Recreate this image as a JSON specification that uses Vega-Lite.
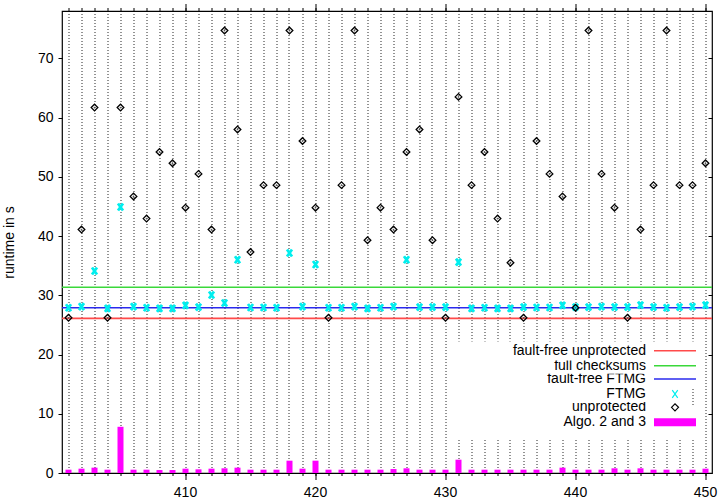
{
  "$schema": "https://vega.github.io/schema/vega-lite/v6.json",
  "width": 650,
  "height": 462,
  "autosize": {"type": "none"},
  "padding": {"left": 62, "top": 11, "right": 7, "bottom": 27},
  "background": "white",
  "datasets": {
    "runs": [
      {"n": 401, "ftmg": 27.9, "unprotected": 26.2, "algo": 0.56},
      {"n": 402, "ftmg": 28.1, "unprotected": 41.1, "algo": 0.73},
      {"n": 403, "ftmg": 34.1, "unprotected": 61.7, "algo": 0.9},
      {"n": 404, "ftmg": 27.8, "unprotected": 26.2, "algo": 0.56},
      {"n": 405, "ftmg": 44.9, "unprotected": 61.7, "algo": 7.8},
      {"n": 406, "ftmg": 28.1, "unprotected": 46.7, "algo": 0.56},
      {"n": 407, "ftmg": 27.9, "unprotected": 42.95, "algo": 0.56},
      {"n": 408, "ftmg": 27.8, "unprotected": 54.2, "algo": 0.5},
      {"n": 409, "ftmg": 27.8, "unprotected": 52.3, "algo": 0.5},
      {"n": 410, "ftmg": 28.3, "unprotected": 44.8, "algo": 0.73},
      {"n": 411, "ftmg": 28.0, "unprotected": 50.5, "algo": 0.62},
      {"n": 412, "ftmg": 30.05, "unprotected": 41.1, "algo": 0.73},
      {"n": 413, "ftmg": 28.7, "unprotected": 74.7, "algo": 0.79},
      {"n": 414, "ftmg": 36.0, "unprotected": 58.0, "algo": 0.9},
      {"n": 415, "ftmg": 27.95, "unprotected": 37.3, "algo": 0.56},
      {"n": 416, "ftmg": 27.95, "unprotected": 48.6, "algo": 0.56},
      {"n": 417, "ftmg": 27.9, "unprotected": 48.6, "algo": 0.56},
      {"n": 418, "ftmg": 37.15, "unprotected": 74.7, "algo": 2.08},
      {"n": 419, "ftmg": 28.1, "unprotected": 56.05, "algo": 0.73},
      {"n": 420, "ftmg": 35.2, "unprotected": 44.8, "algo": 2.08},
      {"n": 421, "ftmg": 27.9, "unprotected": 26.2, "algo": 0.56},
      {"n": 422, "ftmg": 27.9, "unprotected": 48.6, "algo": 0.56},
      {"n": 423, "ftmg": 28.1, "unprotected": 74.7, "algo": 0.56},
      {"n": 424, "ftmg": 27.8, "unprotected": 39.3, "algo": 0.56},
      {"n": 425, "ftmg": 27.9, "unprotected": 44.8, "algo": 0.56},
      {"n": 426, "ftmg": 28.1, "unprotected": 41.1, "algo": 0.67},
      {"n": 427, "ftmg": 36.0, "unprotected": 54.2, "algo": 0.79},
      {"n": 428, "ftmg": 28.0, "unprotected": 58.0, "algo": 0.56},
      {"n": 429, "ftmg": 28.0, "unprotected": 39.3, "algo": 0.56},
      {"n": 430, "ftmg": 28.0, "unprotected": 26.2, "algo": 0.56},
      {"n": 431, "ftmg": 35.6, "unprotected": 63.5, "algo": 2.25},
      {"n": 432, "ftmg": 27.8, "unprotected": 48.6, "algo": 0.56},
      {"n": 433, "ftmg": 27.9, "unprotected": 54.2, "algo": 0.56},
      {"n": 434, "ftmg": 27.8, "unprotected": 42.95, "algo": 0.56},
      {"n": 435, "ftmg": 27.8, "unprotected": 35.5, "algo": 0.56},
      {"n": 436, "ftmg": 28.0, "unprotected": 26.2, "algo": 0.56},
      {"n": 437, "ftmg": 27.95, "unprotected": 56.05, "algo": 0.56},
      {"n": 438, "ftmg": 27.95, "unprotected": 50.5, "algo": 0.56},
      {"n": 439, "ftmg": 28.3, "unprotected": 46.7, "algo": 0.9},
      {"n": 440, "ftmg": 28.0, "unprotected": 27.9, "algo": 0.56},
      {"n": 441, "ftmg": 28.0, "unprotected": 74.7, "algo": 0.56},
      {"n": 442, "ftmg": 28.1, "unprotected": 50.5, "algo": 0.56},
      {"n": 443, "ftmg": 28.0, "unprotected": 44.8, "algo": 0.79},
      {"n": 444, "ftmg": 28.0, "unprotected": 26.2, "algo": 0.56},
      {"n": 445, "ftmg": 28.35, "unprotected": 41.1, "algo": 0.79},
      {"n": 446, "ftmg": 28.0, "unprotected": 48.6, "algo": 0.56},
      {"n": 447, "ftmg": 27.9, "unprotected": 74.7, "algo": 0.56},
      {"n": 448, "ftmg": 28.0, "unprotected": 48.6, "algo": 0.56},
      {"n": 449, "ftmg": 28.1, "unprotected": 48.6, "algo": 0.56},
      {"n": 450, "ftmg": 28.35, "unprotected": 52.3, "algo": 0.73}
    ],
    "lines": [
      {"series": "fault-free unprotected", "runtime": 26.1},
      {"series": "full checksums", "runtime": 31.35},
      {"series": "fault-free FTMG", "runtime": 27.9}
    ]
  },
  "resolve": {
    "scale": {"color": "independent"},
    "axis": {"x": "independent", "y": "independent"}
  },
  "layer": [
    {
      "data": {"name": "lines"},
      "transform": [{"filter": "datum.series === 'fault-free unprotected'"}],
      "mark": {"type": "rule", "strokeWidth": 1.6},
      "encoding": {
        "y": {"field": "runtime", "type": "quantitative", "axis": null},
        "color": {
          "field": "series", "type": "nominal",
          "scale": {"range": ["#ff4a4a"]},
          "legend": {
            "title": null, "orient": "none", "legendX": 390, "legendY": 330.5, "padding": 2.2, "zindex": 6,
            "fillColor": "white", "labelFontSize": 14, "labelFont": "Liberation Sans", "labelColor": "black",
            "labelAlign": "right", "labelOffset": -36, "labelLimit": 400,
            "symbolOffset": 213.8, "symbolSize": 100, "symbolStrokeWidth": 1.5, "symbolType": "M-4.2,0H4.2"
          }
        }
      }
    },
    {
      "data": {"name": "lines"},
      "transform": [{"filter": "datum.series === 'full checksums'"}],
      "mark": {"type": "rule", "strokeWidth": 1.6},
      "encoding": {
        "y": {"field": "runtime", "type": "quantitative", "axis": null},
        "color": {
          "field": "series", "type": "nominal",
          "scale": {"range": ["#3ad83a"]},
          "legend": {
            "title": null, "orient": "none", "legendX": 390, "legendY": 346.7, "padding": 1, "zindex": 5,
            "fillColor": "white", "labelFontSize": 14, "labelFont": "Liberation Sans", "labelColor": "black",
            "labelAlign": "right", "labelOffset": -36, "labelLimit": 400,
            "symbolOffset": 215, "symbolSize": 100, "symbolStrokeWidth": 1.5, "symbolType": "M-4.2,0H4.2"
          }
        }
      }
    },
    {
      "data": {"name": "lines"},
      "transform": [{"filter": "datum.series === 'fault-free FTMG'"}],
      "mark": {"type": "rule", "strokeWidth": 1.6},
      "encoding": {
        "y": {"field": "runtime", "type": "quantitative", "axis": null},
        "color": {
          "field": "series", "type": "nominal",
          "scale": {"range": ["#2a2aee"]},
          "legend": {
            "title": null, "orient": "none", "legendX": 390, "legendY": 359.5, "padding": 1.5, "zindex": 4,
            "fillColor": "white", "labelFontSize": 14, "labelFont": "Liberation Sans", "labelColor": "black",
            "labelAlign": "right", "labelOffset": -36, "labelLimit": 400,
            "symbolOffset": 214.5, "symbolSize": 100, "symbolStrokeWidth": 1.5, "symbolType": "M-4.2,0H4.2"
          }
        }
      }
    },
    {
      "data": {"name": "runs"},
      "mark": {"type": "point", "shape": "M-1,-1.4L1,1.4M-1,1.4L1,-1.4", "size": 25, "filled": false, "strokeWidth": 2.8, "opacity": 1},
      "encoding": {
        "x": {
          "field": "n", "type": "quantitative",
          "axis": {
            "orient": "top", "title": null, "labels": false, "grid": false, "tickSize": 3, "translate": 0,
            "values": [401,402,403,404,405,406,407,408,409,410,411,412,413,414,415,416,417,418,419,420,421,422,423,424,425,426,427,428,429,430,431,432,433,434,435,436,437,438,439,440,441,442,443,444,445,446,447,448,449,450]
          }
        },
        "y": {
          "field": "ftmg", "type": "quantitative",
          "axis": {"orient": "right", "title": null, "labels": false, "grid": false, "tickSize": 4, "offset": -4, "values": [10, 20, 30, 40, 50, 60, 70]}
        },
        "color": {
          "datum": "FTMG", "type": "nominal",
          "scale": {"range": ["#00eeee"]},
          "legend": {
            "title": null, "orient": "none", "legendX": 390, "legendY": 375, "padding": 1, "zindex": 3,
            "fillColor": "white", "labelFontSize": 14, "labelFont": "Liberation Sans", "labelColor": "black",
            "labelAlign": "right", "labelOffset": -36, "labelLimit": 400,
            "symbolOffset": 215, "symbolSize": 30, "symbolStrokeWidth": 1.2
          }
        }
      }
    },
    {
      "data": {"name": "runs"},
      "mark": {"type": "point", "shape": "diamond", "size": 44, "filled": false, "strokeWidth": 1.3, "opacity": 1},
      "encoding": {
        "x": {
          "field": "n", "type": "quantitative",
          "axis": {"orient": "bottom", "title": null, "labels": false, "grid": false, "tickSize": 7, "translate": 0, "values": [410, 420, 430, 440, 450]}
        },
        "y": {"field": "unprotected", "type": "quantitative", "axis": null},
        "color": {
          "datum": "unprotected", "type": "nominal",
          "scale": {"range": ["#000000"]},
          "legend": {
            "title": null, "orient": "none", "legendX": 390, "legendY": 387.8, "padding": 1.5, "zindex": 2,
            "fillColor": "white", "labelFontSize": 14, "labelFont": "Liberation Sans", "labelColor": "black",
            "labelAlign": "right", "labelOffset": -36, "labelLimit": 400,
            "symbolOffset": 214.5, "symbolSize": 49, "symbolStrokeWidth": 1.2
          }
        }
      }
    },
    {
      "data": {"name": "runs"},
      "mark": {"type": "bar", "size": 6},
      "encoding": {
        "x": {
          "field": "n", "type": "quantitative",
          "scale": {"domain": [400.5, 450.5], "nice": false, "zero": false, "padding": 0},
          "axis": {
            "orient": "bottom", "title": null, "translate": 0,
            "values": [401,402,403,404,405,406,407,408,409,410,411,412,413,414,415,416,417,418,419,420,421,422,423,424,425,426,427,428,429,430,431,432,433,434,435,436,437,438,439,440,441,442,443,444,445,446,447,448,449,450],
            "labelExpr": "datum.value % 10 === 0 ? datum.label : ''",
            "tickSize": 3, "labelPadding": 10, "labelOverlap": false, "labelFlush": false,
            "grid": true, "gridDash": [1, 2], "gridColor": "#000000", "gridWidth": 1, "gridOpacity": 0.85
          }
        },
        "y": {
          "field": "algo", "type": "quantitative",
          "scale": {"domain": [0, 78], "nice": false},
          "axis": {
            "orient": "left", "values": [0, 10, 20, 30, 40, 50, 60, 70],
            "tickSize": 4, "labelPadding": 5, "grid": false,
            "title": "runtime in s", "titlePadding": 21
          }
        },
        "color": {
          "datum": "Algo. 2 and 3", "type": "nominal",
          "scale": {"range": ["#ff00ff"]},
          "legend": {
            "title": null, "orient": "none", "legendX": 390, "legendY": 395.6, "padding": 8.7, "zindex": 1,
            "fillColor": "white", "labelFontSize": 14, "labelFont": "Liberation Sans", "labelColor": "black",
            "labelAlign": "right", "labelOffset": -36, "labelLimit": 400,
            "symbolOffset": 207.3, "symbolSize": 100, "symbolStrokeWidth": 0, "symbolType": "M-4.2,-0.8H4.2V0.8H-4.2Z"
          }
        }
      }
    },
    {
      "data": {"name": "runs"},
      "mark": {"type": "point", "shape": "circle", "size": 3, "filled": true, "color": "#555555", "opacity": 1},
      "encoding": {
        "x": {
          "field": "n", "type": "quantitative",
          "axis": {"orient": "top", "title": null, "labels": false, "grid": false, "tickSize": 7, "translate": 0, "values": [410, 420, 430, 440, 450]}
        },
        "y": {"field": "unprotected", "type": "quantitative", "axis": null}
      }
    }
  ],
  "config": {
    "font": "Liberation Sans",
    "view": {"stroke": "#000000", "strokeWidth": 1.2},
    "axis": {
      "domain": false,
      "tickColor": "#000000",
      "tickWidth": 1,
      "labelColor": "#000000",
      "titleColor": "#000000",
      "labelFont": "Liberation Sans",
      "titleFont": "Liberation Sans",
      "labelFontSize": 14,
      "titleFontSize": 14,
      "titleFontWeight": "normal"
    }
  }
}
